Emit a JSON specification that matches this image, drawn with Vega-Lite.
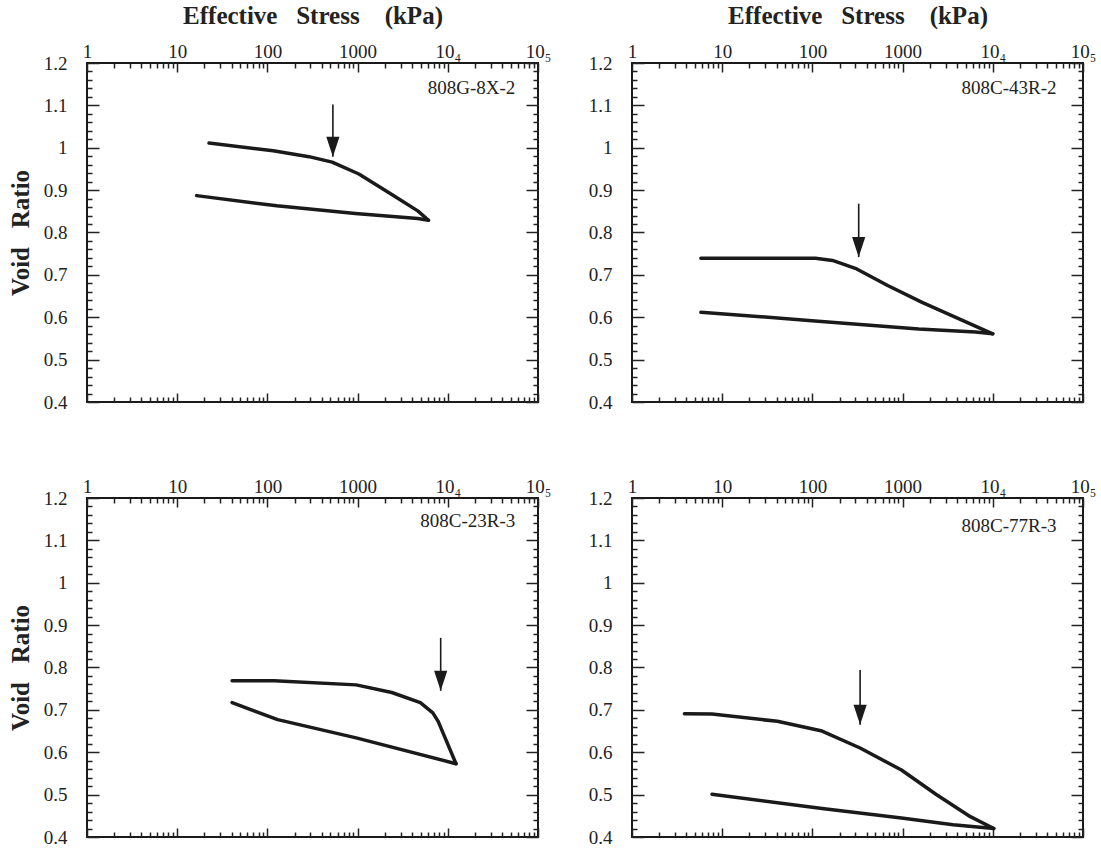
{
  "$schema": "https://vega.github.io/schema/vega-lite/v6.json",
  "background": "white",
  "padding": {"left": 7, "top": 2, "right": 5, "bottom": 0},
  "bounds": "flush",
  "columns": 2,
  "spacing": {"row": 96, "column": 94},
  "config": {
    "view": {"stroke": "#1a1a1a", "strokeWidth": 2},
    "font": "Liberation Serif",
    "text": {"font": "Liberation Serif"},
    "axis": {
      "labelFont": "Liberation Serif", "titleFont": "Liberation Serif",
      "labelColor": "#222", "titleColor": "#222", "tickColor": "#222",
      "grid": false, "domain": false, "labelFontSize": 19,
      "labelOverlap": false, "labelFlush": false, "labelBound": false,
      "tickWidth": 1.5, "titleFontSize": 25, "titleFontWeight": "bold"
    }
  },
  "datasets": {
    "curves": [
      {"panel": "A", "branch": "load", "seq": 1, "stress": 22.5, "e": 1.011},
      {"panel": "A", "branch": "load", "seq": 2, "stress": 116, "e": 0.993},
      {"panel": "A", "branch": "load", "seq": 3, "stress": 289, "e": 0.979},
      {"panel": "A", "branch": "load", "seq": 4, "stress": 522, "e": 0.966},
      {"panel": "A", "branch": "load", "seq": 5, "stress": 1033, "e": 0.938},
      {"panel": "A", "branch": "load", "seq": 6, "stress": 2345, "e": 0.891},
      {"panel": "A", "branch": "load", "seq": 7, "stress": 4645, "e": 0.851},
      {"panel": "A", "branch": "load", "seq": 8, "stress": 6105, "e": 0.829},
      {"panel": "A", "branch": "unload", "seq": 1, "stress": 16.4, "e": 0.887},
      {"panel": "A", "branch": "unload", "seq": 2, "stress": 127, "e": 0.863},
      {"panel": "A", "branch": "unload", "seq": 3, "stress": 944, "e": 0.845},
      {"panel": "A", "branch": "unload", "seq": 4, "stress": 4645, "e": 0.833},
      {"panel": "A", "branch": "unload", "seq": 5, "stress": 6105, "e": 0.829},
      {"panel": "B", "branch": "load", "seq": 1, "stress": 5.8, "e": 0.739},
      {"panel": "B", "branch": "load", "seq": 2, "stress": 108, "e": 0.739},
      {"panel": "B", "branch": "load", "seq": 3, "stress": 167, "e": 0.734},
      {"panel": "B", "branch": "load", "seq": 4, "stress": 310, "e": 0.714},
      {"panel": "B", "branch": "load", "seq": 5, "stress": 683, "e": 0.675},
      {"panel": "B", "branch": "load", "seq": 6, "stress": 1645, "e": 0.635},
      {"panel": "B", "branch": "load", "seq": 7, "stress": 9980, "e": 0.561},
      {"panel": "B", "branch": "unload", "seq": 1, "stress": 5.8, "e": 0.612},
      {"panel": "B", "branch": "unload", "seq": 2, "stress": 98.6, "e": 0.592},
      {"panel": "B", "branch": "unload", "seq": 3, "stress": 1507, "e": 0.572},
      {"panel": "B", "branch": "unload", "seq": 4, "stress": 6430, "e": 0.565},
      {"panel": "B", "branch": "unload", "seq": 5, "stress": 9980, "e": 0.561},
      {"panel": "C", "branch": "load", "seq": 1, "stress": 40.6, "e": 0.769},
      {"panel": "C", "branch": "load", "seq": 2, "stress": 119, "e": 0.769},
      {"panel": "C", "branch": "load", "seq": 3, "stress": 964, "e": 0.759},
      {"panel": "C", "branch": "load", "seq": 4, "stress": 2395, "e": 0.741},
      {"panel": "C", "branch": "load", "seq": 5, "stress": 4963, "e": 0.717},
      {"panel": "C", "branch": "load", "seq": 6, "stress": 6823, "e": 0.693},
      {"panel": "C", "branch": "load", "seq": 7, "stress": 7820, "e": 0.673},
      {"panel": "C", "branch": "load", "seq": 8, "stress": 12330, "e": 0.573},
      {"panel": "C", "branch": "unload", "seq": 1, "stress": 40.6, "e": 0.717},
      {"panel": "C", "branch": "unload", "seq": 2, "stress": 130, "e": 0.677},
      {"panel": "C", "branch": "unload", "seq": 3, "stress": 964, "e": 0.634},
      {"panel": "C", "branch": "unload", "seq": 4, "stress": 12330, "e": 0.573},
      {"panel": "D", "branch": "load", "seq": 1, "stress": 3.81, "e": 0.691},
      {"panel": "D", "branch": "load", "seq": 2, "stress": 7.7, "e": 0.690},
      {"panel": "D", "branch": "load", "seq": 3, "stress": 40.9, "e": 0.673},
      {"panel": "D", "branch": "load", "seq": 4, "stress": 128, "e": 0.650},
      {"panel": "D", "branch": "load", "seq": 5, "stress": 338, "e": 0.610},
      {"panel": "D", "branch": "load", "seq": 6, "stress": 971, "e": 0.558},
      {"panel": "D", "branch": "load", "seq": 7, "stress": 2340, "e": 0.501},
      {"panel": "D", "branch": "load", "seq": 8, "stress": 5640, "e": 0.448},
      {"panel": "D", "branch": "load", "seq": 9, "stress": 10250, "e": 0.420},
      {"panel": "D", "branch": "unload", "seq": 1, "stress": 7.7, "e": 0.501},
      {"panel": "D", "branch": "unload", "seq": 2, "stress": 128, "e": 0.467},
      {"panel": "D", "branch": "unload", "seq": 3, "stress": 971, "e": 0.445},
      {"panel": "D", "branch": "unload", "seq": 4, "stress": 3630, "e": 0.429},
      {"panel": "D", "branch": "unload", "seq": 5, "stress": 10250, "e": 0.420}
    ],
    "arrows": [
      {"panel": "A", "stress": 532, "e_top": 1.102, "e_tip": 0.979},
      {"panel": "B", "stress": 326, "e_top": 0.868, "e_tip": 0.742},
      {"panel": "C", "stress": 8340, "e_top": 0.870, "e_tip": 0.745},
      {"panel": "D", "stress": 338, "e_top": 0.794, "e_tip": 0.665}
    ],
    "labels": [
      {"panel": "A", "label": "808G-8X-2", "stress": 56000, "e": 1.14},
      {"panel": "B", "label": "808C-43R-2", "stress": 50800, "e": 1.14},
      {"panel": "C", "label": "808C-23R-3", "stress": 56000, "e": 1.145},
      {"panel": "D", "label": "808C-77R-3", "stress": 50800, "e": 1.135}
    ]
  },
  "concat": [
    {
      "width": 451, "height": 339,
      "layer": [
        {"data": {"name": "curves"}, "transform": [{"filter": "datum.panel == 'A'"}],
         "mark": {"type": "line", "strokeWidth": 3.5, "color": "#1a1a1a", "strokeJoin": "round", "strokeCap": "round"},
         "encoding": {
           "x": {"field": "stress", "type": "quantitative", "scale": {"type": "log", "domain": [1, 100000]},
                 "axis": {"orient": "top", "values": [1,2,3,4,5,6,7,8,9,10,20,30,40,50,60,70,80,90,100,200,300,400,500,600,700,800,900,1000,2000,3000,4000,5000,6000,7000,8000,9000,10000,20000,30000,40000,50000,60000,70000,80000,90000,100000],
                          "labelExpr": "datum.value == 1 ? '1' : datum.value == 10 ? '10' : datum.value == 100 ? '100' : datum.value == 1000 ? '1000' : datum.value == 10000 ? '10₄' : datum.value == 100000 ? '10₅' : ''",
                          "tickSize": {"condition": {"test": "abs(log(datum.value)/LN10 - round(log(datum.value)/LN10)) < 0.001", "value": -9}, "value": -5},
                          "labelFont": "Liberation Serif", "labelFontSize": 19,
                          "labelPadding": 11, "title": "Effective\u00a0\u00a0\u00a0Stress\u00a0\u00a0\u00a0\u00a0(kPa)", "titleFont": "Liberation Serif", "titlePadding": 10}},
           "y": {"field": "e", "type": "quantitative", "scale": {"domain": [0.4, 1.2], "zero": false, "nice": false},
                 "axis": {"orient": "left", "values": [0.4,0.42,0.44,0.46,0.48,0.5,0.52,0.54,0.56,0.58,0.6,0.62,0.64,0.66,0.68,0.7,0.72,0.74,0.76,0.78,0.8,0.82,0.84,0.86,0.88,0.9,0.92,0.94,0.96,0.98,1,1.02,1.04,1.06,1.08,1.1,1.12,1.14,1.16,1.18,1.2],
                          "labelExpr": "abs(datum.value*10 - round(datum.value*10)) < 0.001 ? (datum.value == 1 ? '1' : format(datum.value, '.1f')) : ''",
                          "tickSize": {"condition": {"test": "abs(datum.value*10 - round(datum.value*10)) < 0.001", "value": -12}, "value": -5},
                          "labelFont": "Liberation Serif", "labelFontSize": 19,
                          "labelPadding": 32, "title": "Void\u00a0\u00a0\u00a0Ratio", "titleFont": "Liberation Serif", "titlePadding": 10}},
           "detail": {"field": "branch"},
           "order": {"field": "seq"}
         }},
        {"data": {"name": "arrows"}, "transform": [{"filter": "datum.panel == 'A'"}],
         "mark": {"type": "rule", "strokeWidth": 1.6, "color": "#1a1a1a"},
         "encoding": {
           "x": {"field": "stress", "type": "quantitative",
                 "axis": {"orient": "bottom", "values": [1,2,3,4,5,6,7,8,9,10,20,30,40,50,60,70,80,90,100,200,300,400,500,600,700,800,900,1000,2000,3000,4000,5000,6000,7000,8000,9000,10000,20000,30000,40000,50000,60000,70000,80000,90000,100000],
                          "labels": false, "title": null,
                          "tickSize": {"condition": {"test": "abs(log(datum.value)/LN10 - round(log(datum.value)/LN10)) < 0.001", "value": -9}, "value": -5}}},
           "y": {"field": "e_top", "type": "quantitative",
                 "axis": {"orient": "right", "values": [0.4,0.42,0.44,0.46,0.48,0.5,0.52,0.54,0.56,0.58,0.6,0.62,0.64,0.66,0.68,0.7,0.72,0.74,0.76,0.78,0.8,0.82,0.84,0.86,0.88,0.9,0.92,0.94,0.96,0.98,1,1.02,1.04,1.06,1.08,1.1,1.12,1.14,1.16,1.18,1.2],
                          "labels": false, "title": null,
                          "tickSize": {"condition": {"test": "abs(datum.value*10 - round(datum.value*10)) < 0.001", "value": -12}, "value": -5}}},
           "y2": {"field": "e_tip"}
         }},
        {"data": {"name": "arrows"}, "transform": [{"filter": "datum.panel == 'A'"}],
         "mark": {"type": "point", "shape": "M-0.33,-1L0.33,-1L0,0Z", "filled": true, "size": 1600, "color": "#1a1a1a", "opacity": 1},
         "encoding": {"x": {"field": "stress", "type": "quantitative", "axis": null}, "y": {"field": "e_tip", "type": "quantitative", "axis": null}}},
        {"data": {"name": "labels"}, "transform": [{"filter": "datum.panel == 'A'"}],
         "mark": {"type": "text", "align": "right", "baseline": "middle", "fontSize": 19, "font": "Liberation Serif", "color": "#222"},
         "encoding": {"x": {"field": "stress", "type": "quantitative", "axis": null}, "y": {"field": "e", "type": "quantitative", "axis": null}, "text": {"field": "label"}}}
      ],
      "resolve": {"axis": {"x": "independent", "y": "independent"}}
    },
    {
      "width": 451, "height": 339,
      "layer": [
        {"data": {"name": "curves"}, "transform": [{"filter": "datum.panel == 'B'"}],
         "mark": {"type": "line", "strokeWidth": 3.5, "color": "#1a1a1a", "strokeJoin": "round", "strokeCap": "round"},
         "encoding": {
           "x": {"field": "stress", "type": "quantitative", "scale": {"type": "log", "domain": [1, 100000]},
                 "axis": {"orient": "top", "values": [1,2,3,4,5,6,7,8,9,10,20,30,40,50,60,70,80,90,100,200,300,400,500,600,700,800,900,1000,2000,3000,4000,5000,6000,7000,8000,9000,10000,20000,30000,40000,50000,60000,70000,80000,90000,100000],
                          "labelExpr": "datum.value == 1 ? '1' : datum.value == 10 ? '10' : datum.value == 100 ? '100' : datum.value == 1000 ? '1000' : datum.value == 10000 ? '10₄' : datum.value == 100000 ? '10₅' : ''",
                          "tickSize": {"condition": {"test": "abs(log(datum.value)/LN10 - round(log(datum.value)/LN10)) < 0.001", "value": -9}, "value": -5},
                          "labelFont": "Liberation Serif", "labelFontSize": 19,
                          "labelPadding": 11, "title": "Effective\u00a0\u00a0\u00a0Stress\u00a0\u00a0\u00a0\u00a0(kPa)", "titleFont": "Liberation Serif", "titlePadding": 10}},
           "y": {"field": "e", "type": "quantitative", "scale": {"domain": [0.4, 1.2], "zero": false, "nice": false},
                 "axis": {"orient": "left", "values": [0.4,0.42,0.44,0.46,0.48,0.5,0.52,0.54,0.56,0.58,0.6,0.62,0.64,0.66,0.68,0.7,0.72,0.74,0.76,0.78,0.8,0.82,0.84,0.86,0.88,0.9,0.92,0.94,0.96,0.98,1,1.02,1.04,1.06,1.08,1.1,1.12,1.14,1.16,1.18,1.2],
                          "labelExpr": "abs(datum.value*10 - round(datum.value*10)) < 0.001 ? (datum.value == 1 ? '1' : format(datum.value, '.1f')) : ''",
                          "tickSize": {"condition": {"test": "abs(datum.value*10 - round(datum.value*10)) < 0.001", "value": -12}, "value": -5},
                          "labelFont": "Liberation Serif", "labelFontSize": 19,
                          "labelPadding": 32, "title": null}},
           "detail": {"field": "branch"},
           "order": {"field": "seq"}
         }},
        {"data": {"name": "arrows"}, "transform": [{"filter": "datum.panel == 'B'"}],
         "mark": {"type": "rule", "strokeWidth": 1.6, "color": "#1a1a1a"},
         "encoding": {
           "x": {"field": "stress", "type": "quantitative",
                 "axis": {"orient": "bottom", "values": [1,2,3,4,5,6,7,8,9,10,20,30,40,50,60,70,80,90,100,200,300,400,500,600,700,800,900,1000,2000,3000,4000,5000,6000,7000,8000,9000,10000,20000,30000,40000,50000,60000,70000,80000,90000,100000],
                          "labels": false, "title": null,
                          "tickSize": {"condition": {"test": "abs(log(datum.value)/LN10 - round(log(datum.value)/LN10)) < 0.001", "value": -9}, "value": -5}}},
           "y": {"field": "e_top", "type": "quantitative",
                 "axis": {"orient": "right", "values": [0.4,0.42,0.44,0.46,0.48,0.5,0.52,0.54,0.56,0.58,0.6,0.62,0.64,0.66,0.68,0.7,0.72,0.74,0.76,0.78,0.8,0.82,0.84,0.86,0.88,0.9,0.92,0.94,0.96,0.98,1,1.02,1.04,1.06,1.08,1.1,1.12,1.14,1.16,1.18,1.2],
                          "labels": false, "title": null,
                          "tickSize": {"condition": {"test": "abs(datum.value*10 - round(datum.value*10)) < 0.001", "value": -12}, "value": -5}}},
           "y2": {"field": "e_tip"}
         }},
        {"data": {"name": "arrows"}, "transform": [{"filter": "datum.panel == 'B'"}],
         "mark": {"type": "point", "shape": "M-0.33,-1L0.33,-1L0,0Z", "filled": true, "size": 1600, "color": "#1a1a1a", "opacity": 1},
         "encoding": {"x": {"field": "stress", "type": "quantitative", "axis": null}, "y": {"field": "e_tip", "type": "quantitative", "axis": null}}},
        {"data": {"name": "labels"}, "transform": [{"filter": "datum.panel == 'B'"}],
         "mark": {"type": "text", "align": "right", "baseline": "middle", "fontSize": 19, "font": "Liberation Serif", "color": "#222"},
         "encoding": {"x": {"field": "stress", "type": "quantitative", "axis": null}, "y": {"field": "e", "type": "quantitative", "axis": null}, "text": {"field": "label"}}}
      ],
      "resolve": {"axis": {"x": "independent", "y": "independent"}}
    },
    {
      "width": 451, "height": 339,
      "layer": [
        {"data": {"name": "curves"}, "transform": [{"filter": "datum.panel == 'C'"}],
         "mark": {"type": "line", "strokeWidth": 3.5, "color": "#1a1a1a", "strokeJoin": "round", "strokeCap": "round"},
         "encoding": {
           "x": {"field": "stress", "type": "quantitative", "scale": {"type": "log", "domain": [1, 100000]},
                 "axis": {"orient": "top", "values": [1,2,3,4,5,6,7,8,9,10,20,30,40,50,60,70,80,90,100,200,300,400,500,600,700,800,900,1000,2000,3000,4000,5000,6000,7000,8000,9000,10000,20000,30000,40000,50000,60000,70000,80000,90000,100000],
                          "labelExpr": "datum.value == 1 ? '1' : datum.value == 10 ? '10' : datum.value == 100 ? '100' : datum.value == 1000 ? '1000' : datum.value == 10000 ? '10₄' : datum.value == 100000 ? '10₅' : ''",
                          "tickSize": {"condition": {"test": "abs(log(datum.value)/LN10 - round(log(datum.value)/LN10)) < 0.001", "value": -9}, "value": -5},
                          "labelFont": "Liberation Serif", "labelFontSize": 19,
                          "labelPadding": 11, "title": null}},
           "y": {"field": "e", "type": "quantitative", "scale": {"domain": [0.4, 1.2], "zero": false, "nice": false},
                 "axis": {"orient": "left", "values": [0.4,0.42,0.44,0.46,0.48,0.5,0.52,0.54,0.56,0.58,0.6,0.62,0.64,0.66,0.68,0.7,0.72,0.74,0.76,0.78,0.8,0.82,0.84,0.86,0.88,0.9,0.92,0.94,0.96,0.98,1,1.02,1.04,1.06,1.08,1.1,1.12,1.14,1.16,1.18,1.2],
                          "labelExpr": "abs(datum.value*10 - round(datum.value*10)) < 0.001 ? (datum.value == 1 ? '1' : format(datum.value, '.1f')) : ''",
                          "tickSize": {"condition": {"test": "abs(datum.value*10 - round(datum.value*10)) < 0.001", "value": -12}, "value": -5},
                          "labelFont": "Liberation Serif", "labelFontSize": 19,
                          "labelPadding": 32, "title": "Void\u00a0\u00a0\u00a0Ratio", "titleFont": "Liberation Serif", "titlePadding": 10}},
           "detail": {"field": "branch"},
           "order": {"field": "seq"}
         }},
        {"data": {"name": "arrows"}, "transform": [{"filter": "datum.panel == 'C'"}],
         "mark": {"type": "rule", "strokeWidth": 1.6, "color": "#1a1a1a"},
         "encoding": {
           "x": {"field": "stress", "type": "quantitative",
                 "axis": {"orient": "bottom", "values": [1,2,3,4,5,6,7,8,9,10,20,30,40,50,60,70,80,90,100,200,300,400,500,600,700,800,900,1000,2000,3000,4000,5000,6000,7000,8000,9000,10000,20000,30000,40000,50000,60000,70000,80000,90000,100000],
                          "labels": false, "title": null,
                          "tickSize": {"condition": {"test": "abs(log(datum.value)/LN10 - round(log(datum.value)/LN10)) < 0.001", "value": -9}, "value": -5}}},
           "y": {"field": "e_top", "type": "quantitative",
                 "axis": {"orient": "right", "values": [0.4,0.42,0.44,0.46,0.48,0.5,0.52,0.54,0.56,0.58,0.6,0.62,0.64,0.66,0.68,0.7,0.72,0.74,0.76,0.78,0.8,0.82,0.84,0.86,0.88,0.9,0.92,0.94,0.96,0.98,1,1.02,1.04,1.06,1.08,1.1,1.12,1.14,1.16,1.18,1.2],
                          "labels": false, "title": null,
                          "tickSize": {"condition": {"test": "abs(datum.value*10 - round(datum.value*10)) < 0.001", "value": -12}, "value": -5}}},
           "y2": {"field": "e_tip"}
         }},
        {"data": {"name": "arrows"}, "transform": [{"filter": "datum.panel == 'C'"}],
         "mark": {"type": "point", "shape": "M-0.33,-1L0.33,-1L0,0Z", "filled": true, "size": 1600, "color": "#1a1a1a", "opacity": 1},
         "encoding": {"x": {"field": "stress", "type": "quantitative", "axis": null}, "y": {"field": "e_tip", "type": "quantitative", "axis": null}}},
        {"data": {"name": "labels"}, "transform": [{"filter": "datum.panel == 'C'"}],
         "mark": {"type": "text", "align": "right", "baseline": "middle", "fontSize": 19, "font": "Liberation Serif", "color": "#222"},
         "encoding": {"x": {"field": "stress", "type": "quantitative", "axis": null}, "y": {"field": "e", "type": "quantitative", "axis": null}, "text": {"field": "label"}}}
      ],
      "resolve": {"axis": {"x": "independent", "y": "independent"}}
    },
    {
      "width": 451, "height": 339,
      "layer": [
        {"data": {"name": "curves"}, "transform": [{"filter": "datum.panel == 'D'"}],
         "mark": {"type": "line", "strokeWidth": 3.5, "color": "#1a1a1a", "strokeJoin": "round", "strokeCap": "round"},
         "encoding": {
           "x": {"field": "stress", "type": "quantitative", "scale": {"type": "log", "domain": [1, 100000]},
                 "axis": {"orient": "top", "values": [1,2,3,4,5,6,7,8,9,10,20,30,40,50,60,70,80,90,100,200,300,400,500,600,700,800,900,1000,2000,3000,4000,5000,6000,7000,8000,9000,10000,20000,30000,40000,50000,60000,70000,80000,90000,100000],
                          "labelExpr": "datum.value == 1 ? '1' : datum.value == 10 ? '10' : datum.value == 100 ? '100' : datum.value == 1000 ? '1000' : datum.value == 10000 ? '10₄' : datum.value == 100000 ? '10₅' : ''",
                          "tickSize": {"condition": {"test": "abs(log(datum.value)/LN10 - round(log(datum.value)/LN10)) < 0.001", "value": -9}, "value": -5},
                          "labelFont": "Liberation Serif", "labelFontSize": 19,
                          "labelPadding": 11, "title": null}},
           "y": {"field": "e", "type": "quantitative", "scale": {"domain": [0.4, 1.2], "zero": false, "nice": false},
                 "axis": {"orient": "left", "values": [0.4,0.42,0.44,0.46,0.48,0.5,0.52,0.54,0.56,0.58,0.6,0.62,0.64,0.66,0.68,0.7,0.72,0.74,0.76,0.78,0.8,0.82,0.84,0.86,0.88,0.9,0.92,0.94,0.96,0.98,1,1.02,1.04,1.06,1.08,1.1,1.12,1.14,1.16,1.18,1.2],
                          "labelExpr": "abs(datum.value*10 - round(datum.value*10)) < 0.001 ? (datum.value == 1 ? '1' : format(datum.value, '.1f')) : ''",
                          "tickSize": {"condition": {"test": "abs(datum.value*10 - round(datum.value*10)) < 0.001", "value": -12}, "value": -5},
                          "labelFont": "Liberation Serif", "labelFontSize": 19,
                          "labelPadding": 32, "title": null}},
           "detail": {"field": "branch"},
           "order": {"field": "seq"}
         }},
        {"data": {"name": "arrows"}, "transform": [{"filter": "datum.panel == 'D'"}],
         "mark": {"type": "rule", "strokeWidth": 1.6, "color": "#1a1a1a"},
         "encoding": {
           "x": {"field": "stress", "type": "quantitative",
                 "axis": {"orient": "bottom", "values": [1,2,3,4,5,6,7,8,9,10,20,30,40,50,60,70,80,90,100,200,300,400,500,600,700,800,900,1000,2000,3000,4000,5000,6000,7000,8000,9000,10000,20000,30000,40000,50000,60000,70000,80000,90000,100000],
                          "labels": false, "title": null,
                          "tickSize": {"condition": {"test": "abs(log(datum.value)/LN10 - round(log(datum.value)/LN10)) < 0.001", "value": -9}, "value": -5}}},
           "y": {"field": "e_top", "type": "quantitative",
                 "axis": {"orient": "right", "values": [0.4,0.42,0.44,0.46,0.48,0.5,0.52,0.54,0.56,0.58,0.6,0.62,0.64,0.66,0.68,0.7,0.72,0.74,0.76,0.78,0.8,0.82,0.84,0.86,0.88,0.9,0.92,0.94,0.96,0.98,1,1.02,1.04,1.06,1.08,1.1,1.12,1.14,1.16,1.18,1.2],
                          "labels": false, "title": null,
                          "tickSize": {"condition": {"test": "abs(datum.value*10 - round(datum.value*10)) < 0.001", "value": -12}, "value": -5}}},
           "y2": {"field": "e_tip"}
         }},
        {"data": {"name": "arrows"}, "transform": [{"filter": "datum.panel == 'D'"}],
         "mark": {"type": "point", "shape": "M-0.33,-1L0.33,-1L0,0Z", "filled": true, "size": 1600, "color": "#1a1a1a", "opacity": 1},
         "encoding": {"x": {"field": "stress", "type": "quantitative", "axis": null}, "y": {"field": "e_tip", "type": "quantitative", "axis": null}}},
        {"data": {"name": "labels"}, "transform": [{"filter": "datum.panel == 'D'"}],
         "mark": {"type": "text", "align": "right", "baseline": "middle", "fontSize": 19, "font": "Liberation Serif", "color": "#222"},
         "encoding": {"x": {"field": "stress", "type": "quantitative", "axis": null}, "y": {"field": "e", "type": "quantitative", "axis": null}, "text": {"field": "label"}}}
      ],
      "resolve": {"axis": {"x": "independent", "y": "independent"}}
    }
  ]
}
